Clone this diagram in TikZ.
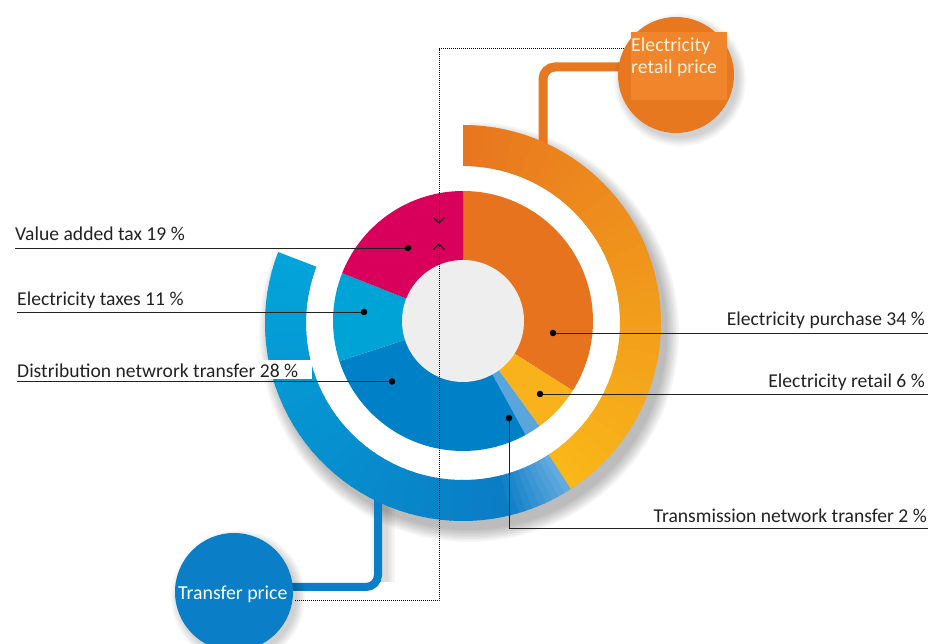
\documentclass[tikz,border=0pt]{standalone}
\usepackage{fontspec}
\setmainfont{Carlito}
\usetikzlibrary{calc}
\definecolor{cOrA}{HTML}{E8761F}
\definecolor{cOrB}{HTML}{F9B719}
\definecolor{cBlL}{HTML}{62AADF}
\definecolor{cBlD}{HTML}{0A7DC5}
\definecolor{cBlC}{HTML}{03A4DA}
\definecolor{pOrange}{HTML}{E8731F}
\definecolor{pYellow}{HTML}{F9B21B}
\definecolor{pTrans}{HTML}{5AA5DC}
\definecolor{pDist}{HTML}{0080C6}
\definecolor{pTax}{HTML}{00A3D5}
\definecolor{pVat}{HTML}{D9005B}
\definecolor{pGray}{HTML}{EEEEEE}
\definecolor{txt}{HTML}{222222}
\definecolor{circOr}{HTML}{E8781F}
\definecolor{boxOr}{HTML}{F0852B}
\definecolor{circBl}{HTML}{0A7EC6}
\definecolor{cream}{HTML}{FFF1D8}
\begin{document}
\begin{tikzpicture}[x=1pt,y=1pt,
  lbl/.style={font=\fontsize{19.6}{22}\selectfont, text=txt, inner sep=0pt},
  leader/.style={draw=txt, line width=0.9pt},
  dotnode/.style={circle, fill=black, inner sep=0pt, minimum size=6.5pt},
  dotted line/.style={draw=black, line width=1pt, dash pattern=on 1.2pt off 0.8pt},
  chev/.style={draw=txt, line width=1.3pt, line cap=round, line join=round},
  stem/.style={line width=9pt, rounded corners=12pt, line cap=butt},
  circtxt/.style={font=\fontsize{19.8}{22}\selectfont, inner sep=0pt}]
\useasboundingbox (0,0) rectangle (928,644);
\fill[white] (0,0) rectangle (928,644);

% ---------- shadows of the outer ring
\begin{scope}[shift={(469,312)}]
  \foreach \k in {0,...,8}{
    \draw[black, opacity=0.03, line width={(41+3*\k)*1pt}]
      (90:177.5pt) arc[start angle=90, end angle=-201, radius=177.5pt];
  }
\end{scope}
% shadow of blue stem
\foreach \k in {0,...,5}{
  \draw[black, opacity=0.025, line width={(9+3*\k)*1pt}] (383,140) -- (383,62);
}
% clear the gap
\fill[white] (463,321) circle[radius=157pt];

% ---------- stems
\draw[stem, draw=circOr] (543,494) -- (543,577) -- (640,577);
\draw[stem, draw=circBl, line width=8pt] (378,150) -- (378,57) -- (250,57);

% ---------- outer ring
\begin{scope}[shift={(463,321)}]
  \foreach \i in {0,...,48}{
    \pgfmathsetmacro\aa{90-\i*147/49}
    \pgfmathsetmacro\ab{90-(\i+1)*147/49-0.4}
    \pgfmathsetmacro\pc{100*\i/48}
    \fill[cOrB!\pc!cOrA] (\aa:198pt) arc[start angle=\aa, end angle=\ab, radius=198pt]
      -- (\ab:157pt) arc[start angle=\ab, end angle=\aa, radius=157pt] -- cycle;
  }
  \foreach \i in {0,...,9}{
    \pgfmathsetmacro\aa{-57-\i*21/10}
    \pgfmathsetmacro\ab{-57-(\i+1)*21/10-0.4}
    \pgfmathsetmacro\pc{100*\i/9}
    \fill[cBlD!\pc!cBlL] (\aa:198pt) arc[start angle=\aa, end angle=\ab, radius=198pt]
      -- (\ab:157pt) arc[start angle=\ab, end angle=\aa, radius=157pt] -- cycle;
  }
  \foreach \i in {0,...,39}{
    \pgfmathsetmacro\aa{-78-\i*123/40}
    \pgfmathsetmacro\ab{\i==39 ? -201 : -78-(\i+1)*123/40-0.4}
    \pgfmathsetmacro\pc{100*\i/39}
    \fill[cBlC!\pc!cBlD] (\aa:198pt) arc[start angle=\aa, end angle=\ab, radius=198pt]
      -- (\ab:157pt) arc[start angle=\ab, end angle=\aa, radius=157pt] -- cycle;
  }
\end{scope}

% ---------- inner pie
\begin{scope}[shift={(463,323)}]
  \fill[pOrange] (0,0) -- (90:130pt) arc[start angle=90, end angle=-32.4, radius=130pt] -- cycle;
  \fill[pYellow] (0,0) -- (-32.4:130pt) arc[start angle=-32.4, end angle=-54, radius=130pt] -- cycle;
  \fill[pTrans] (0,0) -- (-54:130pt) arc[start angle=-54, end angle=-61.2, radius=130pt] -- cycle;
  \fill[pDist] (0,0) -- (-61.2:130pt) arc[start angle=-61.2, end angle=-162, radius=130pt] -- cycle;
  \fill[pTax] (0,0) -- (-162:130pt) arc[start angle=-162, end angle=-201.6, radius=130pt] -- cycle;
  \fill[pVat] (0,0) -- (-201.6:130pt) arc[start angle=-201.6, end angle=-270, radius=130pt] -- cycle;
  \fill[pGray] (0,0) circle[radius=61pt];
\end{scope}

% ---------- white box behind distribution label
\fill[white] (15,265) rectangle (312,284);

% ---------- dots and leaders
\node[dotnode] (dVat) at (408,396) {};
\node[dotnode] (dTax) at (364,332) {};
\node[dotnode] (dDist) at (392,262.5) {};
\node[dotnode] (dPur) at (553,311) {};
\node[dotnode] (dRet) at (540,250) {};
\node[dotnode] (dTra) at (509,226) {};
\coordinate (eVat) at (15,396);
\coordinate (eTax) at (17,332);
\coordinate (eDist) at (17,262.5);
\coordinate (ePur) at (928,311);
\coordinate (eRet) at (928,250);
\coordinate (kTra) at (509,116);
\coordinate (eTra) at (928,116);
\draw[leader] (dVat) -- (eVat);
\draw[leader] (dTax) -- (eTax);
\draw[leader] (dDist) -- (eDist);
\draw[leader] (dPur) -- (ePur);
\draw[leader] (dRet) -- (eRet);
\draw[leader] (dTra) -- (kTra) -- (eTra);

\node[lbl, anchor=base west] (tVat) at (15,403) {Value added tax 19 \%};
\node[lbl, anchor=base west] (tTax) at (17,338) {Electricity taxes 11 \%};
\node[lbl, anchor=base west] (tDist) at (17,266.5) {Distribution netwrork transfer 28 \%};
\node[lbl, anchor=base east] (tPur) at (925,318) {Electricity purchase 34 \%};
\node[lbl, anchor=base east] (tRet) at (925,256) {Electricity retail 6 \%};
\node[lbl, anchor=base east] (tTra) at (927,121) {Transmission network transfer 2 \%};

% ---------- dotted guide
\coordinate (gTopR) at (630,595);
\coordinate (gTopL) at (439,595);
\coordinate (gTopE) at (439,421);
\coordinate (gBotL) at (295,43);
\coordinate (gBotR) at (439,43);
\coordinate (gBotE) at (439,400);
\draw[dotted line] (gTopR) -- (gTopL) -- (gTopE);
\draw[dotted line] (gBotL) -- (gBotR) -- (gBotE);
\draw[chev] (433.5,426.5) -- (gTopE) -- (444.5,426.5);
\draw[chev] (433.5,394.5) -- (gBotE) -- (444.5,394.5);

% ---------- circles with shadows
\foreach \k in {0,...,5}{
  \fill[black, opacity=0.03] (680,564) circle[radius={(58+\k*1.6)*1pt}];
  \fill[black, opacity=0.03] (238,47) circle[radius={(59+\k*1.6)*1pt}];
}
\node[circle, fill=circOr, minimum size=116pt, inner sep=0pt] (cRet) at (676,569) {};
\fill[boxOr] (631,544) rectangle (727,612);
\node[circtxt, text=cream, anchor=base west] (tRetP1) at (631,592) {Electricity};
\node[circtxt, text=cream, anchor=base west] (tRetP2) at (631,570) {retail price};

\node[circle, fill=circBl, minimum size=118pt, inner sep=0pt] (cTr) at (234,52) {};
\node[circtxt, text=white, anchor=base west] (tTr) at (178,44) {Transfer price};
\end{tikzpicture}
\end{document}
